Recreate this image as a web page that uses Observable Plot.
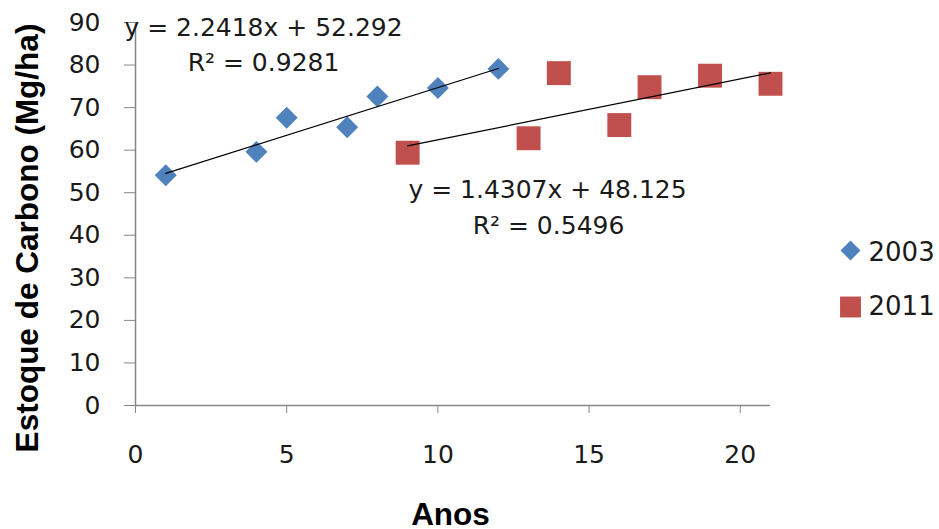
<!DOCTYPE html>
<html>
<head>
<meta charset="utf-8">
<script src="https://cdn.jsdelivr.net/npm/d3@7"></script>
<script src="https://cdn.jsdelivr.net/npm/@observablehq/plot@0.6"></script>
<style>
  html, body { margin: 0; padding: 0; background: #fff; }
  #chart svg { display: block; }
</style>
</head>
<body>
<div id="chart"></div>
<script>
// ---- data ----
const series = ["2003", "2011"];
const anos2003 = [1, 4, 5, 7, 8, 10, 12];
const estoque2003 = [54.1, 59.6, 67.6, 65.4, 72.6, 74.6, 79.1];
const anos2011 = [9, 13, 14, 16, 17, 19, 21];
const estoque2011 = [59.4, 62.8, 78.1, 65.9, 74.8, 77.5, 75.6];
const slopes = [2.2418, 1.4307];
const intercepts = [52.292, 48.125];
const r2Values = ["0.9281", "0.5496"];
const xTicks = [0, 5, 10, 15, 20];
const yTicks = [0, 10, 20, 30, 40, 50, 60, 70, 80, 90];
const xTitle = "Anos";
const yTitle = "Estoque de Carbono (Mg/ha)";

// ---- derived tables ----
const pts2003 = anos2003.map((x, i) => ({x, y: estoque2003[i]}));
const pts2011 = anos2011.map((x, i) => ({x, y: estoque2011[i]}));
const xs = [anos2003, anos2011];
const trend = series.flatMap((s, k) => {
  const lo = d3.min(xs[k]), hi = d3.max(xs[k]);
  return [lo, hi].map(x => ({series: s, x, y: slopes[k] * x + intercepts[k]}));
});
const eqText = series.map((s, k) => `y = ${slopes[k]}x + ${intercepts[k]}`);
const r2Text = series.map((s, k) => `R² = ${r2Values[k]}`);

const BLUE = "#4F81BD", RED = "#C0504D", AX = "#868686", TXT = "#1a1a1a";
const numFont = "DejaVu Sans";
const titleFont = "Liberation Sans";

const chart = Plot.plot({
  width: 939,
  height: 529,
  marginLeft: 135,
  marginRight: 169,
  marginTop: 22,
  marginBottom: 124,
  style: {fontFamily: numFont, fontSize: "25px", color: TXT, background: "#fff", overflow: "visible"},
  x: {domain: [0, 21]},
  y: {domain: [0, 90]},
  marks: [
    Plot.axisX({ticks: xTicks, tickSize: 8, tickPadding: 32, label: null, stroke: AX, fill: TXT, fontSize: 25}),
    Plot.axisY({ticks: yTicks, tickSize: 11, tickPadding: 24, label: null, stroke: AX, fill: TXT, fontSize: 25}),
    Plot.ruleX([0], {stroke: AX, strokeWidth: 1.5}),
    Plot.ruleY([0], {stroke: AX, strokeWidth: 1.5}),
    Plot.dot(pts2003, {x: "x", y: "y", symbol: "diamond2", r: 9.9, fill: BLUE, stroke: "none"}),
    Plot.dot(pts2011, {x: "x", y: "y", symbol: "square", r: 13.5, fill: RED, stroke: "none"}),
    Plot.line(trend, {x: "x", y: "y", z: "series", stroke: "#000", strokeWidth: 1.2}),
    // equations
    Plot.text([eqText[0]], {text: d => d, frameAnchor: "top-left", dx: 128, dy: 13.7, textAnchor: "middle", lineAnchor: "bottom", fontSize: 25, fill: TXT}),
    Plot.text([r2Text[0]], {text: d => d, frameAnchor: "top-left", dx: 128, dy: 48, textAnchor: "middle", lineAnchor: "bottom", fontSize: 25, fill: TXT}),
    Plot.text([eqText[1]], {text: d => d, frameAnchor: "top-left", dx: 412, dy: 175, textAnchor: "middle", lineAnchor: "bottom", fontSize: 25, fill: TXT}),
    Plot.text([r2Text[1]], {text: d => d, frameAnchor: "top-left", dx: 413, dy: 211, textAnchor: "middle", lineAnchor: "bottom", fontSize: 25, fill: TXT}),
    // legend
    Plot.dot([series[0]], {frameAnchor: "top-right", dx: 80, dy: 228, symbol: "diamond2", r: 9, fill: BLUE}),
    Plot.dot([series[1]], {frameAnchor: "top-right", dx: 80, dy: 284.5, symbol: "square", r: 11.8, fill: RED}),
    Plot.text([series[0]], {text: d => d, frameAnchor: "top-right", dx: 98, dy: 230, textAnchor: "start", lineAnchor: "middle", fontSize: 26, fill: TXT}),
    Plot.text([series[1]], {text: d => d, frameAnchor: "top-right", dx: 98, dy: 284, textAnchor: "start", lineAnchor: "middle", fontSize: 26, fill: TXT}),
    // axis titles
    Plot.text([yTitle], {text: d => d, frameAnchor: "left", dx: -108, dy: 24, rotate: -90, textAnchor: "middle", lineAnchor: "middle", fontSize: 31.5, fontWeight: "bold", fontFamily: titleFont, fill: "#000"}),
    Plot.text([xTitle], {text: d => d, frameAnchor: "bottom", dx: -2.5, dy: 119, textAnchor: "middle", lineAnchor: "bottom", fontSize: 31.5, fontWeight: "bold", fontFamily: titleFont, fill: "#000"})
  ]
});
document.getElementById("chart").appendChild(chart);
</script>
</body>
</html>
